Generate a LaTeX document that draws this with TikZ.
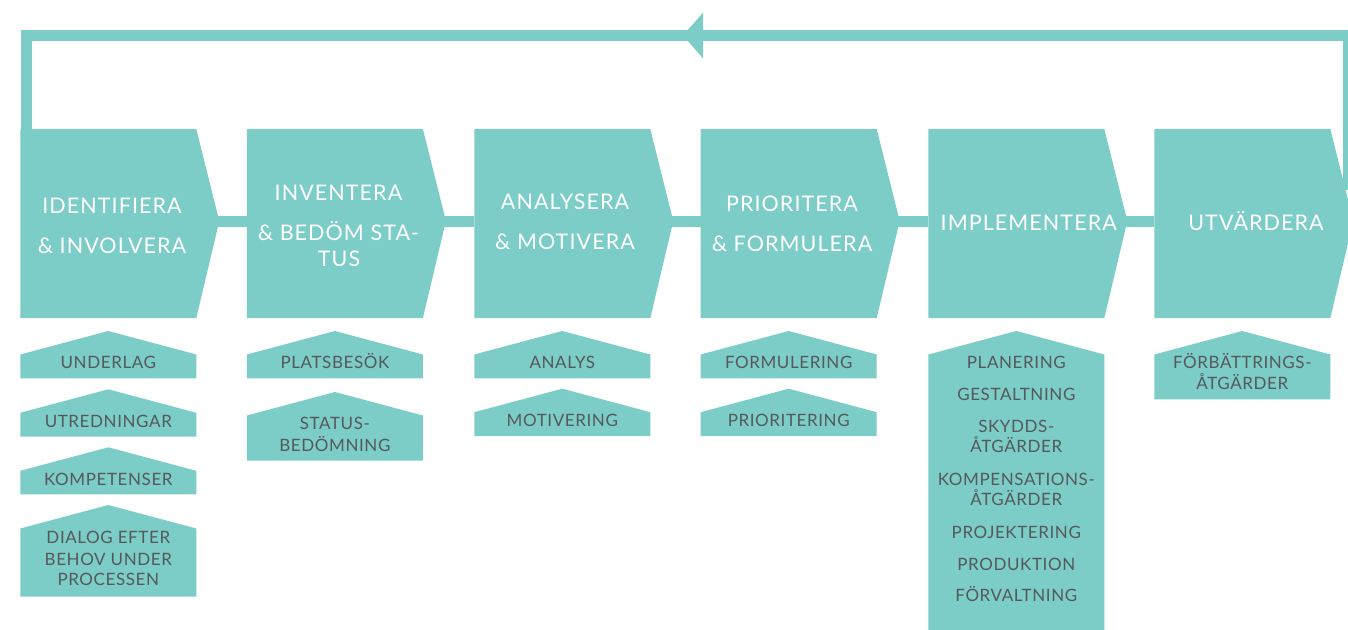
\documentclass[tikz,border=0pt]{standalone}
\usepackage{fontspec}
\setmainfont{Lato}
\newfontfamily\mainf{Lato}[LetterSpace=5]
\newfontfamily\subf{Lato}[LetterSpace=3.5]
\definecolor{tealc}{HTML}{7CCCC7}
\definecolor{subtxt}{HTML}{55595C}
\tikzset{
  mainlbl/.style={anchor=base, text=white, inner sep=0pt, font=\mainf\fontsize{21.5}{26}\selectfont},
  sublbl/.style={anchor=base, text=subtxt, inner sep=0pt, font=\subf\fontsize{17}{20}\selectfont},
  link/.style={draw=tealc, line width=11pt},
  loopline/.style={draw=tealc, line width=11pt, line join=miter},
}
\newcommand{\chevshape}[2]{%
  \fill[tealc] (#2,129) -- (#2+176,129) -- (#2+199,221) -- (#2+176,318) -- (#2,318) -- cycle;
  \coordinate (#1w) at (#2,221);
  \coordinate (#1e) at (#2+195,221);
}
\newcommand{\houseshape}[3]{%
  \fill[tealc] (#1,#2+23.5) -- (#1+88,#2) -- (#1+176,#2+23.5) -- (#1+176,#3) -- (#1,#3) -- cycle;
}
\begin{document}
\begin{tikzpicture}[x=1pt,y=-1pt]
\useasboundingbox (0,0) rectangle (1348,629);
\clip (0,0) rectangle (1348,629);
% loop
\coordinate (b6top) at (1348.5,190);
\coordinate (tr) at (1348.5,35.5);
\coordinate (tl) at (26,35.5);
\coordinate (b1top) at (26,135);
\draw[loopline] (b6top) -- (tr) -- (tl) -- (b1top);
\fill[tealc] (683,35.5) -- (703,12.7) -- (703,58.3) -- cycle;
% chevrons
\chevshape{b1}{20.3}
\chevshape{b2}{246.9}
\chevshape{b3}{474.3}
\chevshape{b4}{700.7}
\chevshape{b5}{928.3}
\chevshape{b6}{1154.3}
\draw[link] (b1e) -- (b2w);
\draw[link] (b2e) -- (b3w);
\draw[link] (b3e) -- (b4w);
\draw[link] (b4e) -- (b5w);
\draw[link] (b5e) -- (b6w);
% main labels
\node[mainlbl] (t1a) at (112,213) {IDENTIFIERA};
\node[mainlbl] (t1b) at (112,253) {\& INVOLVERA};
\node[mainlbl] (t2a) at (338.5,200) {INVENTERA};
\node[mainlbl] (t2b) at (338.5,240) {\& BEDÖM STA-};
\node[mainlbl] (t2c) at (339,266) {TUS};
\node[mainlbl] (t3a) at (565,209.3) {ANALYSERA};
\node[mainlbl] (t3b) at (565,249.3) {\& MOTIVERA};
\node[mainlbl] (t4a) at (792,211) {PRIORITERA};
\node[mainlbl] (t4b) at (792,251) {\& FORMULERA};
\node[mainlbl] (t5a) at (1028.7,230.7) {IMPLEMENTERA};
\node[mainlbl] (t6a) at (1256,230.7) {UTVÄRDERA};
% sub boxes column 1
\houseshape{20.3}{331}{378.3}
\houseshape{20.3}{389.3}{436.7}
\houseshape{20.3}{447.3}{494.3}
\houseshape{20.3}{505}{596.7}
\node[sublbl] (s1a) at (108.3,368.3) {UNDERLAG};
\node[sublbl] (s1b) at (108.3,427.3) {UTREDNINGAR};
\node[sublbl] (s1c) at (108.3,485) {KOMPETENSER};
\node[sublbl] (s1d) at (108.3,543.3) {DIALOG EFTER};
\node[sublbl] (s1e) at (108.3,565) {BEHOV UNDER};
\node[sublbl] (s1f) at (108.3,585.7) {PROCESSEN};
% column 2
\houseshape{246.9}{331}{378.3}
\houseshape{246.9}{392}{460.7}
\node[sublbl] (s2a) at (334.9,368.3) {PLATSBESÖK};
\node[sublbl] (s2b) at (334.9,429.3) {STATUS-};
\node[sublbl] (s2c) at (334.9,451) {BEDÖMNING};
% column 3
\houseshape{474.3}{331}{378.3}
\houseshape{474.3}{388.7}{436}
\node[sublbl] (s3a) at (562.3,368.3) {ANALYS};
\node[sublbl] (s3b) at (562.3,426) {MOTIVERING};
% column 4
\houseshape{700.7}{331}{378.3}
\houseshape{700.7}{388.7}{436}
\node[sublbl] (s4a) at (788.7,368.3) {FORMULERING};
\node[sublbl] (s4b) at (788.7,426) {PRIORITERING};
% column 5
\houseshape{928.3}{331}{640}
\node[sublbl] (s5a) at (1016.3,368.3) {PLANERING};
\node[sublbl] (s5b) at (1016.3,400) {GESTALTNING};
\node[sublbl] (s5c) at (1016.3,432.3) {SKYDDS-};
\node[sublbl] (s5d) at (1016.3,452.7) {ÅTGÄRDER};
\node[sublbl] (s5e) at (1016.3,485) {KOMPENSATIONS-};
\node[sublbl] (s5f) at (1016.3,505.7) {ÅTGÄRDER};
\node[sublbl] (s5g) at (1016.3,538.3) {PROJEKTERING};
\node[sublbl] (s5h) at (1016.3,570) {PRODUKTION};
\node[sublbl] (s5i) at (1016.3,601.7) {FÖRVALTNING};
% column 6
\houseshape{1154.3}{331}{399.3}
\node[sublbl] (s6a) at (1242.3,368.3) {FÖRBÄTTRINGS-};
\node[sublbl] (s6b) at (1242.3,389.3) {ÅTGÄRDER};
\end{tikzpicture}
\end{document}
